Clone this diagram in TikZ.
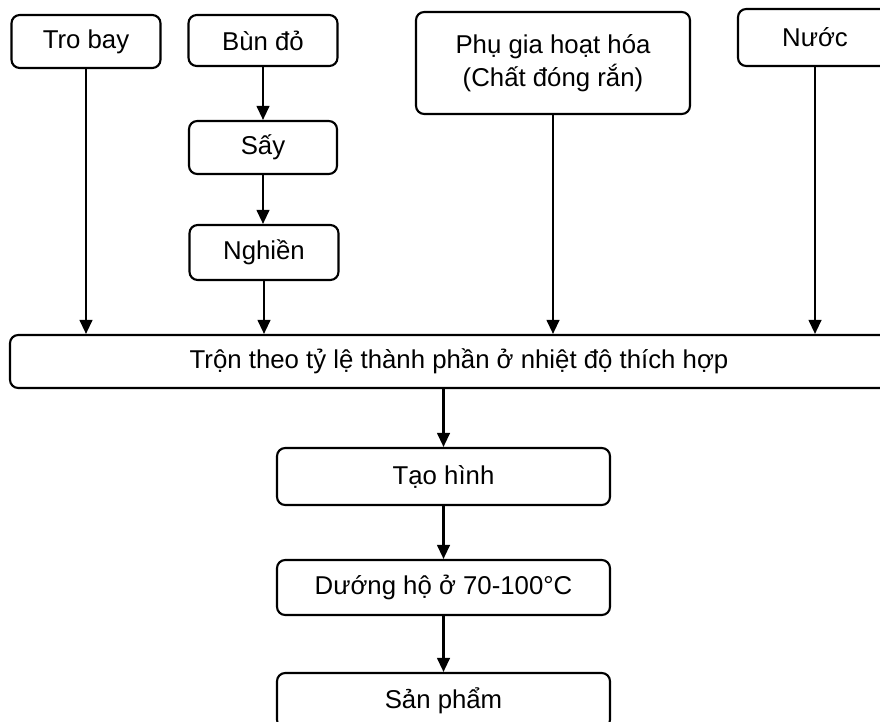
\documentclass[tikz,border=0pt]{standalone}
\usepackage{fontspec}
\setmainfont{Liberation Sans}
\usetikzlibrary{arrows.meta, positioning}
\tikzset{
    stepbox/.style={
        draw, rounded corners=7pt, line width=1.8pt, align=center,
        inner sep=0pt, font=\fontsize{22}{28}\selectfont
    },
    boxsize/.style 2 args={
        minimum width=#1*0.03cm, minimum height=#2*0.03cm
    },
    flow/.style={
        -{Triangle[length=0.42cm, width=0.38cm]}, line width=1.8pt
    }
}

\begin{document}
\begin{tikzpicture}[x=0.03cm, y=-0.03cm]
    \useasboundingbox (0,0) rectangle (880,721);

    % --- nguyen lieu ---
    \node[stepbox, boxsize={149}{53}] (tro) at (86,41.5) {Tro bay};
    \node[stepbox, boxsize={149}{51}] (bun) at (263,40.5) {Bùn đỏ};
    \node[stepbox, boxsize={148}{53}] (say) at (263,147.5) {Sấy};
    \node[stepbox, boxsize={149}{55}] (nghien) at (264,252.5) {Nghiền};
    \node[stepbox, boxsize={274}{102}] (phugia) at (553,63) {Phụ gia hoạt hóa\\(Chất đóng rắn)};
    \node[stepbox, boxsize={154}{57}] (nuoc) at (815,37.5) {Nước};

    % --- tron va cac buoc sau ---
    \node[stepbox, boxsize={898}{53}] (tron) at (459,361.5) {Trộn theo tỷ lệ thành phần ở nhiệt độ thích hợp};
    \node[stepbox, boxsize={333}{57}] (taohinh) at (443.5,476.5) {Tạo hình};
    \node[stepbox, boxsize={333}{55}] (duong) at (443.5,587.5) {Dướng hộ ở 70-100°C};
    \node[stepbox, boxsize={333}{55}] (sanpham) at (443.5,700.5) {Sản phẩm};

    % --- mui ten ---
    \draw[flow] (bun.south) -- (bun.south |- say.north);
    \draw[flow] (say.south) -- (say.south |- nghien.north);
    \draw[flow] (tro.south) -- (tro.south |- tron.north);
    \draw[flow] (nghien.south) -- (nghien.south |- tron.north);
    \draw[flow] (phugia.south) -- (phugia.south |- tron.north);
    \draw[flow] (nuoc.south) -- (nuoc.south |- tron.north);
    \draw[flow] (taohinh.north |- tron.south) -- (taohinh.north);
    \draw[flow] (taohinh) -- (duong);
    \draw[flow] (duong) -- (sanpham);
\end{tikzpicture}
\end{document}
